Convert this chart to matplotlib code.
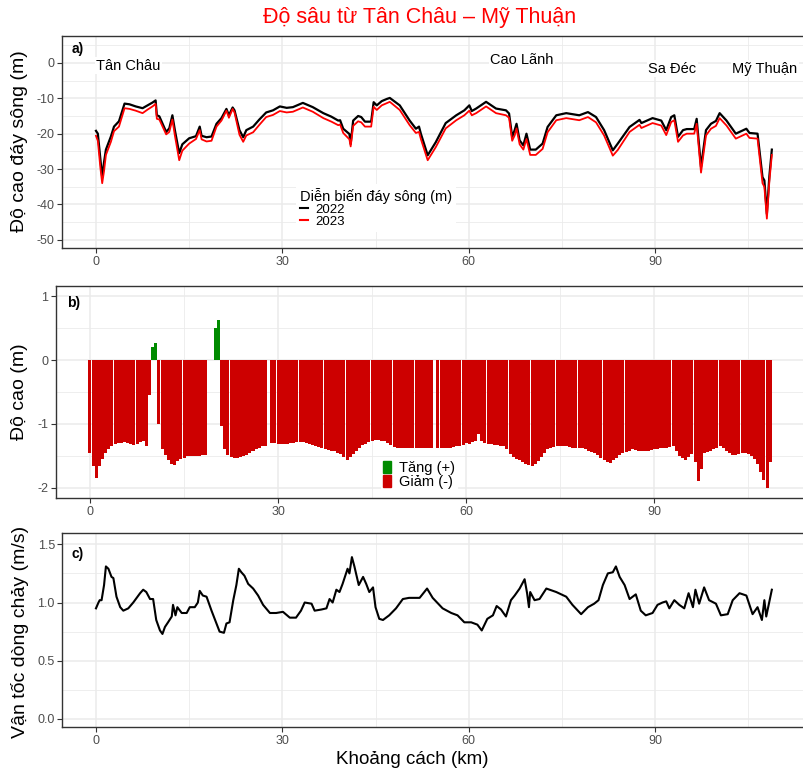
import numpy as np
import matplotlib
matplotlib.use("Agg")
import matplotlib.pyplot as plt
from matplotlib.lines import Line2D
from matplotlib.patches import Patch

plt.rcParams['font.family'] = ['Liberation Sans', 'DejaVu Sans']
plt.rcParams['axes.unicode_minus'] = False

############################## Data ############################################
# a) river bed elevation (m) along the reach, km from Tan Chau
km_a = [0.0, 0.3, 0.7, 1.0, 1.3, 1.6, 2.4, 2.9, 3.7, 4.6, 5.4, 6.4, 7.5, 8.3,
        9.1, 9.6, 9.8, 10.2, 11.3, 11.8, 12.3, 12.7, 13.4, 13.9, 15.0, 16.1,
        16.7, 17.0, 17.8, 18.6, 19.4, 20.2, 21.0, 21.4, 22.0, 22.3, 23.1, 23.7,
        24.2, 25.3, 26.3, 27.4, 28.5, 29.6, 30.7, 31.7, 33.3, 34.9, 36.6, 37.9,
        39.0, 39.3, 39.8, 40.8, 41.0, 41.4, 42.2, 42.7, 43.3, 44.3, 44.7, 45.2,
        46.0, 46.8, 47.3, 48.9, 50.5, 51.5, 52.0, 52.3, 53.4, 54.7, 56.3, 58.0,
        59.3, 60.1, 60.5, 61.2, 62.8, 64.4, 66.0, 66.5, 67.0, 67.4, 67.7, 68.2,
        68.8, 69.3, 69.9, 70.8, 71.9, 72.7, 74.1, 75.7, 77.8, 79.2, 80.5, 81.8,
        83.2, 84.0, 85.9, 87.5, 87.8, 89.6, 91.0, 91.8, 92.6, 93.1, 93.7, 94.5,
        95.1, 96.3, 96.7, 97.4, 98.2, 99.0, 99.8, 100.4, 101.5, 103.0, 104.7,
        105.2, 106.5, 107.3, 107.6, 108.0, 108.4, 108.8]
bed_2022 = [-19.2, -20.0, -27.0, -32.3, -28.0, -24.5, -20.8, -18.0, -16.5, -11.5,
            -11.7, -12.3, -12.8, -12.0, -11.2, -10.6, -14.8, -15.1, -19.5, -18.5,
            -14.8, -19.0, -25.5, -23.0, -21.3, -20.7, -18.0, -20.6, -21.0, -20.8,
            -17.2, -15.6, -13.0, -14.8, -12.6, -13.4, -19.0, -21.0, -19.0, -18.0,
            -16.0, -14.0, -13.4, -12.3, -12.7, -12.5, -11.3, -12.5, -14.2, -15.2,
            -16.3, -16.2, -18.6, -20.1, -22.9, -16.3, -15.0, -15.3, -16.6, -16.6,
            -11.1, -12.0, -10.8, -10.2, -9.9, -12.0, -16.3, -18.6, -18.0, -20.0,
            -26.1, -22.4, -17.0, -14.8, -13.4, -12.0, -13.6, -12.9, -11.0, -12.9,
            -13.4, -14.3, -20.9, -19.0, -17.2, -21.9, -23.3, -20.0, -24.5, -24.5,
            -22.8, -18.1, -14.8, -14.2, -14.8, -13.9, -15.3, -19.0, -24.7, -22.8,
            -18.1, -16.1, -17.0, -15.6, -16.3, -19.0, -15.3, -14.8, -20.9, -19.0,
            -18.7, -18.7, -15.8, -29.4, -19.0, -17.2, -16.4, -14.2, -16.3, -20.0,
            -18.6, -19.8, -20.0, -32.3, -33.2, -42.7, -32.0, -24.5]
bed_2023 = [-20.6, -22.0, -29.5, -34.0, -30.5, -26.0, -22.3, -19.3, -18.0, -12.8,
            -13.0, -13.5, -14.2, -13.2, -12.3, -11.6, -15.8, -16.0, -20.2, -19.5,
            -16.0, -20.5, -27.5, -24.8, -22.8, -21.5, -19.0, -21.6, -22.2, -22.0,
            -18.0, -16.3, -13.5, -15.5, -13.0, -14.0, -20.3, -22.3, -20.5, -19.6,
            -17.5, -15.3, -14.7, -13.6, -14.0, -13.8, -12.6, -13.8, -15.6, -16.6,
            -17.6, -17.4, -19.8, -21.6, -23.6, -17.8, -16.5, -16.8, -18.0, -18.0,
            -12.4, -13.3, -12.0, -11.4, -11.0, -13.3, -17.6, -19.8, -19.5, -21.5,
            -27.5, -23.8, -18.5, -16.2, -14.8, -13.5, -14.8, -14.2, -12.3, -14.2,
            -14.8, -15.5, -22.0, -20.5, -18.5, -23.0, -24.5, -21.5, -26.0, -26.0,
            -24.3, -19.6, -16.2, -15.6, -16.2, -15.3, -16.8, -20.5, -26.2, -24.6,
            -19.5, -17.5, -18.4, -17.0, -17.7, -20.4, -16.7, -16.2, -22.3, -20.5,
            -20.0, -20.0, -17.2, -31.0, -20.5, -18.6, -17.8, -15.6, -17.7, -21.4,
            -20.0, -21.2, -21.4, -34.0, -35.0, -44.0, -33.5, -26.0]

# b) change of bed elevation 2023-2022 (m), every 0.5 km from 0 to 108.5 km
km_b = np.arange(0, 108.75, 0.5)
dz = [-1.46, -1.66, -1.84, -1.66, -1.55, -1.46, -1.40, -1.35, -1.32, -1.30,   # 0-4.5
      -1.30, -1.29, -1.30, -1.31, -1.33, -1.31, -1.29, -1.27, -1.35, -0.55,   # 5-9.5
      0.20, 0.27, -1.00, -1.40, -1.48, -1.56, -1.62, -1.64, -1.58, -1.55,     # 10-14.5
      -1.53, -1.51, -1.50, -1.50, -1.51, -1.50, -1.49, -1.48, 0.0, 0.0,       # 15-19.5
      0.50, 0.62, -1.04, -1.40, -1.48, -1.52, -1.53, -1.53, -1.52, -1.50,     # 20-24.5
      -1.48, -1.45, -1.42, -1.39, -1.37, -1.35, -1.34, 0.0, -1.30, -1.30,     # 25-29.5
      -1.31, -1.31, -1.32, -1.31, -1.30, -1.30, -1.29, -1.29, -1.29, -1.30,   # 30-34.5
      -1.31, -1.33, -1.34, -1.36, -1.38, -1.39, -1.41, -1.42, -1.43, -1.45,   # 35-39.5
      -1.47, -1.52, -1.56, -1.52, -1.47, -1.43, -1.38, -1.33, -1.31, -1.28,   # 40-44.5
      -1.26, -1.25, -1.25, -1.26, -1.27, -1.30, -1.33, -1.36, -1.38, -1.38,   # 45-49.5
      -1.38, -1.38, -1.38, -1.38, -1.38, -1.38, -1.38, -1.38, -1.38, -1.38,   # 50-54.5
      0.0, -1.38, -1.38, -1.38, -1.38, -1.37, -1.36, -1.35, -1.34, -1.33,     # 55-59.5
      -1.30, -1.32, -1.28, -1.27, -1.15, -1.27, -1.30, -1.31, -1.32, -1.33,   # 60-64.5
      -1.33, -1.34, -1.35, -1.40, -1.47, -1.52, -1.55, -1.57, -1.60, -1.63,   # 65-69.5
      -1.65, -1.66, -1.63, -1.58, -1.52, -1.46, -1.40, -1.37, -1.36, -1.35,   # 70-74.5
      -1.35, -1.35, -1.35, -1.36, -1.37, -1.37, -1.37, -1.38, -1.40, -1.42,   # 75-79.5
      -1.44, -1.46, -1.49, -1.53, -1.57, -1.60, -1.61, -1.57, -1.53, -1.49,   # 80-84.5
      -1.46, -1.44, -1.42, -1.40, -1.41, -1.42, -1.43, -1.43, -1.42, -1.41,   # 85-89.5
      -1.40, -1.39, -1.38, -1.38, -1.37, -1.36, -1.35, -1.42, -1.50, -1.53,   # 90-94.5
      -1.56, -1.52, -1.47, -1.60, -1.90, -1.70, -1.46, -1.44, -1.43, -1.40,   # 95-99.5
      -1.37, -1.35, -1.38, -1.42, -1.46, -1.48, -1.48, -1.47, -1.46, -1.46,   # 100-104.5
      -1.47, -1.50, -1.55, -1.63, -1.75, -1.88, -2.00, -1.60]                 # 105-108.5

# c) flow velocity (m/s)
km_c = [0.0, 0.4, 0.6, 0.9, 1.3, 1.6, 2.0, 2.5, 2.8, 3.3, 3.9, 4.4, 5.2, 6.0,
        7.1, 7.6, 8.1, 8.7, 9.2, 9.7, 10.3, 10.7, 11.1, 11.6, 12.2, 12.4, 12.8,
        13.1, 13.8, 14.6, 15.1, 15.9, 16.4, 16.7, 17.2, 17.8, 18.6, 19.4, 19.9,
        20.6, 21.0, 21.5, 22.1, 22.6, 23.0, 23.4, 23.9, 24.5, 25.3, 26.1, 26.9,
        28.0, 29.0, 30.1, 31.2, 32.2, 33.0, 33.6, 34.7, 35.2, 36.3, 37.1, 37.6,
        38.1, 38.7, 39.2, 39.7, 40.5, 40.8, 41.2, 41.6, 42.3, 43.0, 43.5, 44.0,
        44.6, 45.0, 45.6, 46.2, 47.2, 48.3, 49.4, 50.4, 52.1, 53.3, 54.2, 55.8,
        57.2, 58.2, 59.3, 60.4, 61.4, 62.1, 63.0, 63.9, 64.5, 65.2, 66.0, 66.8,
        67.4, 68.2, 69.0, 69.4, 69.7, 69.9, 70.6, 71.4, 72.5, 74.1, 75.7, 76.7,
        78.1, 79.2, 80.2, 80.9, 81.6, 82.4, 83.2, 83.7, 84.3, 85.1, 85.9, 86.9,
        87.7, 88.5, 89.6, 90.4, 91.2, 91.8, 92.3, 93.1, 93.9, 94.7, 95.4, 96.1,
        96.5, 97.1, 97.9, 98.7, 99.8, 100.6, 101.7, 102.5, 103.6, 104.7, 105.7,
        106.5, 107.2, 107.6, 107.9, 108.8]
vel = [0.95, 1.00, 1.02, 1.02, 1.15, 1.31, 1.29, 1.22, 1.21, 1.05, 0.96, 0.93,
       0.95, 1.00, 1.08, 1.11, 1.09, 1.03, 1.03, 0.85, 0.76, 0.73, 0.79, 0.83,
       0.88, 0.98, 0.89, 0.96, 0.91, 0.91, 0.96, 0.96, 1.00, 1.10, 1.06, 1.05,
       0.93, 0.82, 0.75, 0.74, 0.82, 0.83, 1.02, 1.15, 1.29, 1.26, 1.23, 1.16,
       1.12, 1.06, 0.98, 0.91, 0.91, 0.92, 0.87, 0.87, 0.93, 1.00, 0.99, 0.93,
       0.94, 0.95, 1.03, 1.00, 1.11, 1.09, 1.16, 1.29, 1.25, 1.39, 1.31, 1.15,
       1.22, 1.16, 1.09, 1.13, 0.96, 0.86, 0.85, 0.89, 0.95, 1.03, 1.04, 1.04,
       1.12, 1.04, 0.95, 0.91, 0.89, 0.83, 0.83, 0.81, 0.76, 0.86, 0.89, 0.97,
       0.94, 0.88, 1.02, 1.06, 1.12, 1.20, 1.08, 0.96, 1.09, 1.02, 1.03, 1.12,
       1.09, 1.05, 0.98, 0.90, 0.96, 0.99, 1.02, 1.15, 1.25, 1.26, 1.31, 1.22,
       1.15, 1.03, 1.07, 0.93, 0.89, 0.91, 0.98, 1.00, 1.01, 0.95, 1.02, 0.98,
       0.95, 1.08, 0.96, 1.11, 0.99, 1.13, 1.02, 0.99, 0.89, 0.90, 1.02, 1.08,
       1.06, 0.90, 0.96, 0.85, 1.02, 0.88, 1.11]

places = ['Tân Châu', 'Cao Lãnh', 'Sa Đéc', 'Mỹ Thuận']
place_km = [5.2, 68.6, 92.8, 107.7]
place_y = [-0.8, 0.8, -1.7, -1.7]

############################## Helpers #########################################
W, H = 804, 770


def add_panel(left, top, right, bottom):
    return fig.add_axes([left / W, 1 - bottom / H, (right - left) / W,
                         (bottom - top) / H])


def style(ax, xmaj, xmin, ymaj, ymin):
    ax.set_xticks(xmaj)
    ax.set_xticks(xmin, minor=True)
    ax.set_yticks(ymaj)
    ax.set_yticks(ymin, minor=True)
    ax.grid(True, which='major', color='#EBEBEB', lw=1.1)
    ax.grid(True, which='minor', color='#EBEBEB', lw=0.6)
    ax.set_axisbelow(True)
    ax.tick_params(which='major', length=3.5, width=0.8, color='#333333',
                   labelcolor='#4D4D4D', labelsize=9, pad=2)
    ax.tick_params(which='minor', length=0)
    for s in ax.spines.values():
        s.set_color('#333333')
        s.set_linewidth(1.0)


############################## Plot ############################################
fig = plt.figure(figsize=(W / 100, H / 100), dpi=100)
xmaj = [0, 30, 60, 90]
xmin = [15, 45, 75, 105]

# a) bed elevation
ax1 = add_panel(62.5, 36, 806, 248)
ax1.plot(km_a, bed_2022, color='black', lw=1.6, label='2022')
ax1.plot(km_a, bed_2023, color='#FF0000', lw=1.3, label='2023')
ax1.set_xlim(-5.39, 114.3)
ax1.set_ylim(-52.3, 7.6)
style(ax1, xmaj, xmin, [0, -10, -20, -30, -40, -50],
      [5, -5, -15, -25, -35, -45])
ax1.text(-4.0, 3.8, 'a)', fontsize=10, fontweight='bold', va='center')
for name, px, py in zip(places, place_km, place_y):
    ax1.text(px, py, name, fontsize=10.5, ha='center', va='center',
             bbox=dict(fc='white', ec='none', pad=1.0))
leg = ax1.legend(handles=[Line2D([], [], color='black', lw=1.5),
                          Line2D([], [], color='#FF0000', lw=1.5)],
                 labels=['2022', '2023'], title='Diễn biến đáy sông (m)',
                 loc='upper left', bbox_to_anchor=(0.305, 0.335),
                 fontsize=9.5, title_fontsize=10.5, frameon=True,
                 facecolor='white', edgecolor='none', framealpha=1,
                 handlelength=0.6, handletextpad=0.6, labelspacing=0.0,
                 borderpad=0.3, alignment='left', fancybox=False)

# b) elevation change
ax2 = add_panel(56, 286, 806, 498)
dz = np.array(dz)
colors = np.where(dz > 0, '#008B00', '#CD0000')
ax2.bar(km_b, dz, width=0.48, color=colors, linewidth=0)
ax2.set_xlim(-5.42, 114.2)
ax2.set_ylim(-2.16, 1.16)
style(ax2, xmaj, xmin, [1, 0, -1, -2], [0.5, -0.5, -1.5])
ax2.text(-3.6, 0.9, 'b)', fontsize=10, fontweight='bold', va='center')
ax2.legend(handles=[Patch(color='#008B00'), Patch(color='#CD0000')],
           labels=['Tăng (+)', 'Giảm (-)'], loc='upper left',
           bbox_to_anchor=(0.423, 0.222), fontsize=10.5, frameon=True,
           facecolor='white', edgecolor='none', framealpha=1,
           handlelength=0.55, handleheight=0.9, handletextpad=0.5,
           labelspacing=0.0, borderpad=0.2, fancybox=False)

# c) flow velocity
ax3 = add_panel(62.5, 533, 806, 727)
ax3.plot(km_c, vel, color='black', lw=1.5)
ax3.set_xlim(-5.39, 114.3)
ax3.set_ylim(-0.069, 1.597)
style(ax3, xmaj, xmin, [0.0, 0.5, 1.0, 1.5], [0.25, 0.75, 1.25])
ax3.set_yticklabels(['0.0', '0.5', '1.0', '1.5'])
ax3.text(-4.0, 1.42, 'c)', fontsize=10, fontweight='bold', va='center')

# titles and axis labels
fig.text(420 / W, 1 - 18 / H, 'Độ sâu từ Tân Châu – Mỹ Thuận', color='#FF0000',
         fontsize=15.5, ha='center', va='center')
fig.text(20 / W, 1 - 141 / H, 'Độ cao đáy sông (m)', rotation=90, fontsize=14,
         ha='center', va='center')
fig.text(20 / W, 1 - 392 / H, 'Độ cao (m)', rotation=90, fontsize=14,
         ha='center', va='center')
fig.text(20 / W, 1 - 632 / H, 'Vận tốc dòng chảy (m/s)', rotation=90,
         fontsize=14, ha='center', va='center')
fig.text(412 / W, 1 - 759 / H, 'Khoảng cách (km)', fontsize=13.5,
         ha='center', va='center')

plt.savefig('out.png', dpi=100)
